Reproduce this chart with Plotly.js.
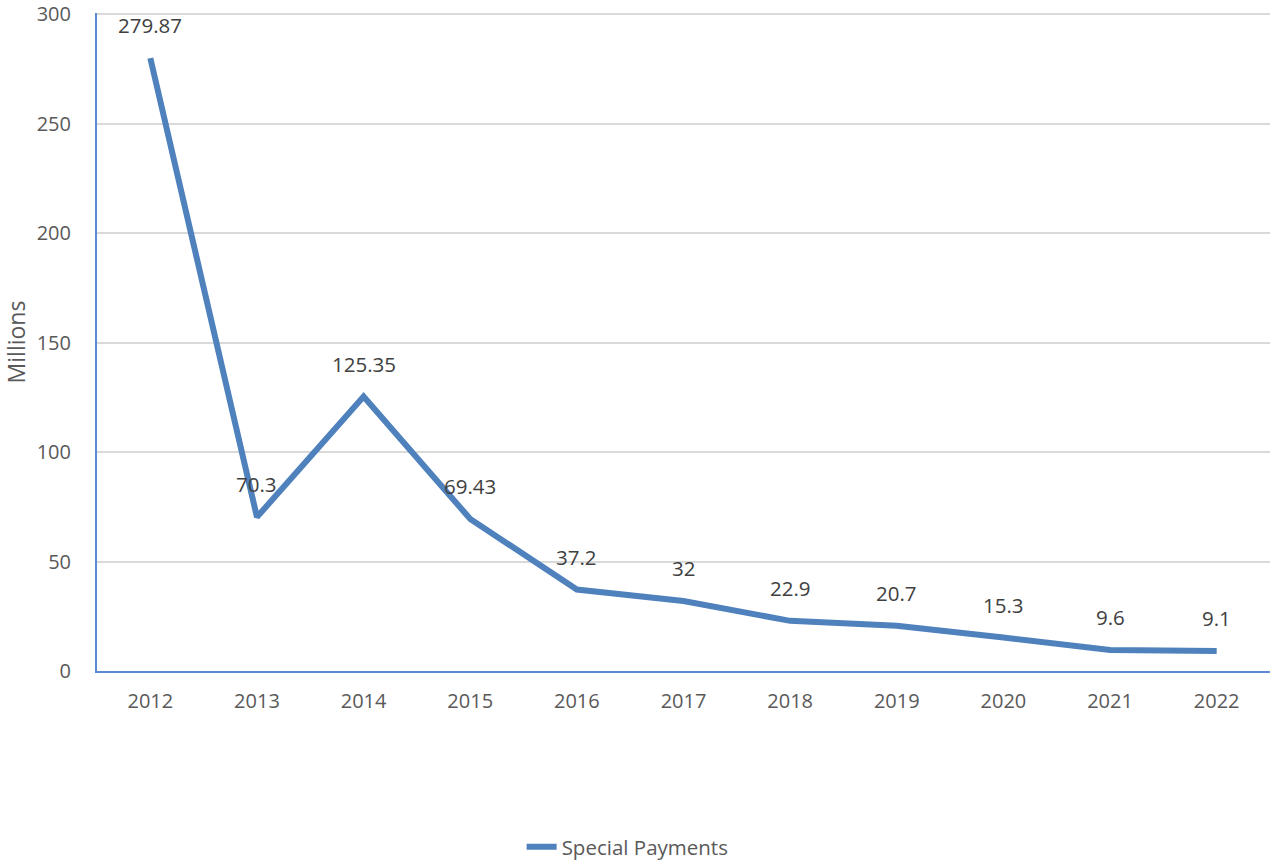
<!DOCTYPE html>
<html>
<head>
<meta charset="utf-8">
<script src="https://cdn.plot.ly/plotly-3.0.1.min.js"></script>
<style>
  html, body { margin: 0; padding: 0; background: #fff; }
  #chart { width: 1270px; height: 867px; }
</style>
</head>
<body>
<div id="chart"></div>
<script>
// Special payments per year, in millions
const years = ['2012', '2013', '2014', '2015', '2016', '2017', '2018', '2019', '2020', '2021', '2022'];
const payments = [279.87, 70.3, 125.35, 69.43, 37.2, 32, 22.9, 20.7, 15.3, 9.6, 9.1];
const yTicks = [0, 50, 100, 150, 200, 250, 300];

const fontFamily = 'Open Sans, Liberation Sans, sans-serif';
const lineColor = '#4F81BD';
const gridColor = '#D9D9D9';

const trace = {
  type: 'scatter',
  mode: 'lines',
  x: years,
  y: payments,
  name: 'Special Payments',
  line: { color: lineColor, width: 6 },
  hoverinfo: 'x+y'
};

// Value labels above each point
const labels = payments.map((v, i) => ({
  x: i,
  y: v,
  text: String(v),
  showarrow: false,
  xref: 'x',
  yref: 'y',
  yanchor: 'middle',
  yshift: 33,
  font: { family: fontFamily, size: 20.5, color: '#404040' }
}));

// The top gridline sits on the range edge, so it is drawn as a shape
const topValue = yTicks[yTicks.length - 1];
const topGrid = {
  type: 'line',
  xref: 'paper',
  yref: 'y',
  x0: 0,
  x1: 1,
  y0: topValue,
  y1: topValue,
  layer: 'below',
  line: { color: gridColor, width: 1.5 }
};

const layout = {
  width: 1270,
  height: 867,
  margin: { l: 97, r: 0, t: 13, b: 195 },
  paper_bgcolor: '#ffffff',
  plot_bgcolor: '#ffffff',
  font: { family: fontFamily, size: 20, color: '#595959' },
  showlegend: true,
  legend: {
    orientation: 'h',
    x: 0.362,
    xanchor: 'left',
    y: -0.268,
    yanchor: 'middle',
    font: { family: fontFamily, size: 20.5, color: '#595959' }
  },
  xaxis: {
    type: 'category',
    range: [-0.5, 10.5],
    showline: true,
    linecolor: '#5B8BD0',
    linewidth: 2,
    showgrid: false,
    zeroline: false,
    ticks: '',
    ticklabelstandoff: 11,
    tickfont: { family: fontFamily, size: 20, color: '#595959' }
  },
  yaxis: {
    range: [0, 300.5],
    tickvals: yTicks,
    showline: true,
    linecolor: '#5B8BD0',
    linewidth: 2,
    showgrid: true,
    gridcolor: gridColor,
    gridwidth: 1.5,
    zeroline: false,
    ticks: '',
    ticklabeloverflow: 'allow',
    ticklabelstandoff: 20,
    tickfont: { family: fontFamily, size: 20, color: '#595959' },
    title: { text: 'Millions', font: { family: fontFamily, size: 23, color: '#595959' }, standoff: 16 }
  },
  shapes: [topGrid],
  annotations: labels
};

Plotly.newPlot('chart', [trace], layout, { displayModeBar: false });
</script>
</body>
</html>
